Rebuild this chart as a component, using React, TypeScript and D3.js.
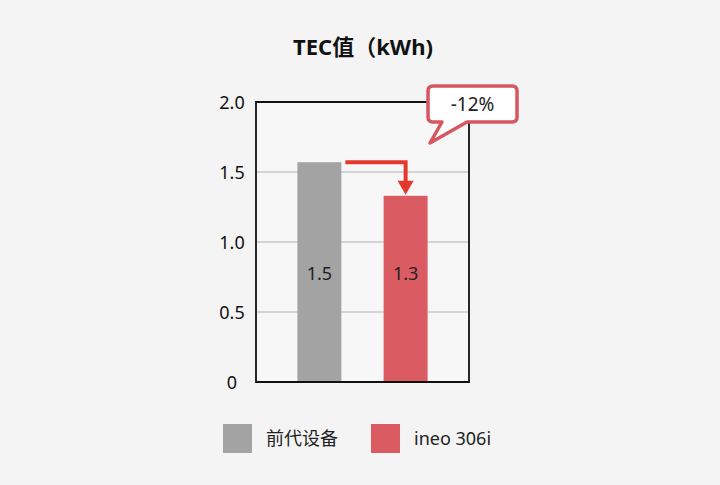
import React, { useEffect, useRef } from 'react';
import * as d3 from 'd3';

const categories = ['前代设备', 'ineo 306i'];
const values = [1.57, 1.33];
const valueLabels = ['1.5', '1.3'];
const yTicks = [0, 0.5, 1.0, 1.5, 2.0];
const changeLabel = '-12%';
const title = 'TEC值（kWh)';
const colors = ['#a3a3a3', '#da5c62'];

const WIDTH = 720;
const HEIGHT = 485;
const FONT = '"Noto Sans", "Noto Sans CJK SC", sans-serif';

const App: React.FC = () => {
  const svgRef = useRef<SVGSVGElement>(null);

  useEffect(() => {
    if (!svgRef.current) return;
    const svg = d3.select(svgRef.current);
    svg.selectAll('*').remove();

    const plot = { left: 256, right: 469, top: 102, bottom: 382 };

    svg.append('rect')
      .attr('width', WIDTH)
      .attr('height', HEIGHT)
      .attr('fill', '#f4f4f4');

    const x = d3.scaleBand<string>()
      .domain(categories)
      .range([plot.left, plot.right])
      .paddingInner(0.49)
      .paddingOuter(0.48);

    const y = d3.scaleLinear()
      .domain([0, 2])
      .range([plot.bottom, plot.top]);

    // Title
    svg.append('text')
      .attr('x', 363)
      .attr('y', 55)
      .attr('text-anchor', 'middle')
      .attr('font-family', FONT)
      .attr('font-size', 22)
      .attr('font-weight', 'bold')
      .attr('fill', '#111')
      .text(title);

    // Plot background
    svg.append('rect')
      .attr('x', plot.left)
      .attr('y', plot.top)
      .attr('width', plot.right - plot.left)
      .attr('height', plot.bottom - plot.top)
      .attr('fill', '#f7f7f7');

    // Grid lines
    svg.append('g')
      .selectAll('line')
      .data(yTicks.filter(d => d > 0 && d < 2))
      .enter()
      .append('line')
      .attr('x1', plot.left)
      .attr('x2', plot.right)
      .attr('y1', d => y(d))
      .attr('y2', d => y(d))
      .attr('stroke', '#c8c8c8')
      .attr('stroke-width', 1.5);

    // Y tick labels
    svg.append('g')
      .selectAll('text')
      .data(yTicks)
      .enter()
      .append('text')
      .attr('x', 232)
      .attr('y', d => y(d) + 7)
      .attr('text-anchor', 'middle')
      .attr('font-family', FONT)
      .attr('font-size', 18)
      .attr('fill', '#111')
      .text(d => (d === 0 ? '0' : d3.format('.1f')(d)));

    // Bars
    svg.append('g')
      .selectAll('rect')
      .data(categories)
      .enter()
      .append('rect')
      .attr('x', d => x(d)!)
      .attr('y', (d, i) => y(values[i]))
      .attr('width', x.bandwidth())
      .attr('height', (d, i) => y(0) - y(values[i]))
      .attr('fill', (d, i) => colors[i]);

    // Value labels
    svg.append('g')
      .selectAll('text')
      .data(categories)
      .enter()
      .append('text')
      .attr('x', d => x(d)! + x.bandwidth() / 2)
      .attr('y', 280)
      .attr('text-anchor', 'middle')
      .attr('font-family', FONT)
      .attr('font-size', 18)
      .attr('fill', '#222')
      .text((d, i) => valueLabels[i]);

    // Frame (left, top, right, bottom)
    svg.append('path')
      .attr('d', `M${plot.left},${plot.bottom}V${plot.top}H${plot.right}V${plot.bottom}Z`)
      .attr('fill', 'none')
      .attr('stroke', '#111')
      .attr('stroke-width', 1.8);

    // Arrow from bar 1 top to bar 2 top
    const x0 = x(categories[0])! + x.bandwidth() + 4;
    const x1 = x(categories[1])! + x.bandwidth() / 2;
    const yA = y(values[0]);
    const yB = y(values[1]);
    const arrowColor = '#e3382b';
    svg.append('path')
      .attr('d', `M${x0},${yA}H${x1}V${yB - 14}`)
      .attr('fill', 'none')
      .attr('stroke', arrowColor)
      .attr('stroke-width', 4);
    svg.append('path')
      .attr('d', `M${x1 - 8},${yB - 15}L${x1 + 8},${yB - 15}L${x1},${yB - 1}Z`)
      .attr('fill', arrowColor);

    // Callout
    const cx = 428;
    const cy = 86;
    const cw = 89;
    const ch = 36;
    const r = 5;
    const tailL = cx + 14;
    const tailR = cx + 39;
    const tip = [cx + 2, cy + ch + 21];
    const calloutPath = [
      `M${cx + r},${cy}`,
      `H${cx + cw - r}`,
      `Q${cx + cw},${cy} ${cx + cw},${cy + r}`,
      `V${cy + ch - r}`,
      `Q${cx + cw},${cy + ch} ${cx + cw - r},${cy + ch}`,
      `H${tailR}`,
      `L${tip[0]},${tip[1]}`,
      `L${tailL},${cy + ch}`,
      `H${cx + r}`,
      `Q${cx},${cy + ch} ${cx},${cy + ch - r}`,
      `V${cy + r}`,
      `Q${cx},${cy} ${cx + r},${cy}`,
      'Z',
    ].join(' ');
    svg.append('path')
      .attr('d', calloutPath)
      .attr('fill', '#ffffff')
      .attr('stroke', '#d6575f')
      .attr('stroke-width', 3.5)
      .attr('stroke-linejoin', 'round');
    svg.append('text')
      .attr('x', cx + cw / 2)
      .attr('y', cy + ch / 2 + 7)
      .attr('text-anchor', 'middle')
      .attr('font-family', FONT)
      .attr('font-size', 19)
      .attr('fill', '#222')
      .text(changeLabel);

    // Legend
    const legendX = [223, 371];
    const legend = svg.append('g')
      .selectAll('g')
      .data(categories)
      .enter()
      .append('g')
      .attr('transform', (d, i) => `translate(${legendX[i]},424)`);
    legend.append('rect')
      .attr('width', 29)
      .attr('height', 29)
      .attr('fill', (d, i) => colors[i]);
    legend.append('text')
      .attr('x', 43)
      .attr('y', 21)
      .attr('font-family', FONT)
      .attr('font-size', 18)
      .attr('fill', '#222')
      .text(d => d);
  }, []);

  return (
    <svg
      ref={svgRef}
      width={WIDTH}
      height={HEIGHT}
      style={{ position: 'absolute', left: 0, top: 0 }}
    />
  );
};

export default App;
